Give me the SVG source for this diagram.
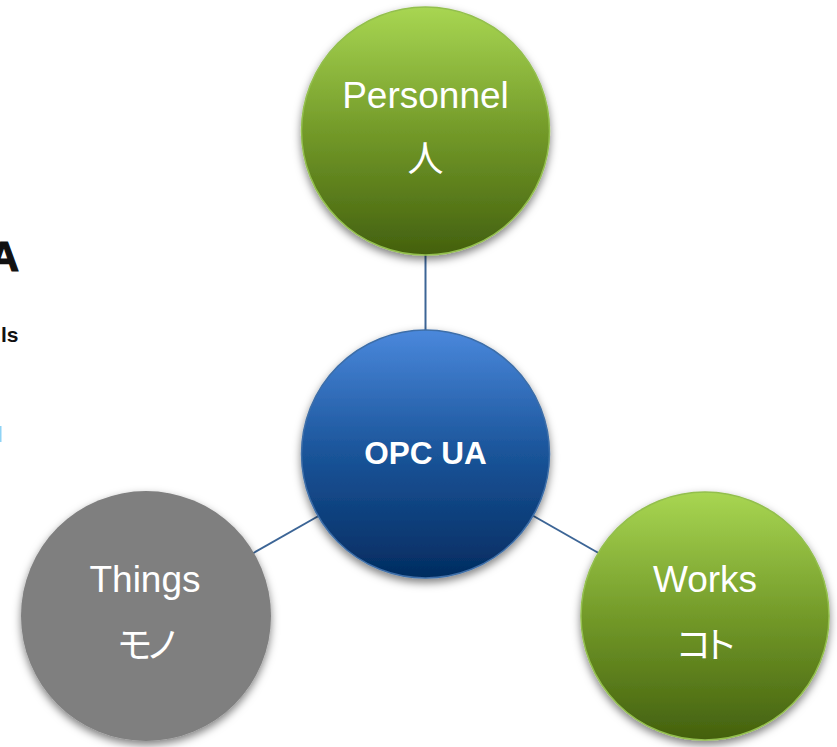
<svg xmlns="http://www.w3.org/2000/svg" width="837" height="747" viewBox="0 0 837 747">
<style>
.label{font-family:"Liberation Sans","Noto Sans CJK JP",sans-serif;font-size:37px;fill:#fff;text-anchor:middle}
.jp{font-family:"Noto Sans CJK JP",sans-serif;font-size:36px;font-weight:400;fill:#fff;text-anchor:middle;font-feature-settings:"palt"}
.kana{letter-spacing:-4px}
.link{stroke:#3c6596;stroke-width:2;fill:none}
</style>
<defs>
<linearGradient id="green" x1="0" y1="0" x2="0" y2="1"><stop offset="0" stop-color="#a8d652"/><stop offset=".5" stop-color="#739a29"/><stop offset="1" stop-color="#43600e"/></linearGradient>
<linearGradient id="blue" x1="0" y1="0" x2="0" y2="1"><stop offset="0" stop-color="#4a88dc"/><stop offset=".5" stop-color="#1a5499"/><stop offset="1" stop-color="#032c60"/></linearGradient>
<filter id="shadow" x="-10%" y="-10%" width="120%" height="125%"><feDropShadow dx="0" dy="4" stdDeviation="4.500" flood-color="#000" flood-opacity=".5"/></filter>
</defs>
<g id="fragments">
<text x="19" y="271" text-anchor="end" font-family="Liberation Sans, sans-serif" font-size="42" font-weight="700" fill="#111" stroke="#111" stroke-width="1.200">A</text>
<text x="18.500" y="342" text-anchor="end" font-family="Liberation Sans, sans-serif" font-size="21" font-weight="700" fill="#111">ls</text>
<rect x="0" y="426" width="1.500" height="16" fill="#8fd3f5"/>
</g>
<g id="connectors">
<line class="link" x1="425.500" y1="250" x2="425.500" y2="335"/>
<line class="link" x1="250" y1="555" x2="322" y2="514"/>
<line class="link" x1="530" y1="514" x2="602" y2="555"/>
</g>
<g id="personnel">
<circle cx="425.500" cy="131" r="124" fill="url(#green)" stroke="#93bf4e" stroke-width="1.500" filter="url(#shadow)"/>
<text class="label" x="425.500" y="108">Personnel</text>
<text class="jp" x="425.500" y="172">人</text>
</g>
<g id="opcua">
<circle cx="425.500" cy="454" r="124" fill="url(#blue)" stroke="#3d6ea8" stroke-width="1.500" filter="url(#shadow)"/>
<text x="425.500" y="464" text-anchor="middle" font-family="Liberation Sans, sans-serif" font-size="31.500" font-weight="700" fill="#fff">OPC UA</text>
</g>
<g id="things">
<circle cx="146" cy="616" r="125" fill="#7f7f7f" filter="url(#shadow)"/>
<text class="label" x="145" y="592">Things</text>
<text class="jp kana" x="145" y="658">モノ</text>
</g>
<g id="works">
<circle cx="705" cy="616" r="124" fill="url(#green)" stroke="#93bf4e" stroke-width="1.500" filter="url(#shadow)"/>
<text class="label" x="705" y="592">Works</text>
<text class="jp kana" x="704" y="658">コト</text>
</g>
</svg>
